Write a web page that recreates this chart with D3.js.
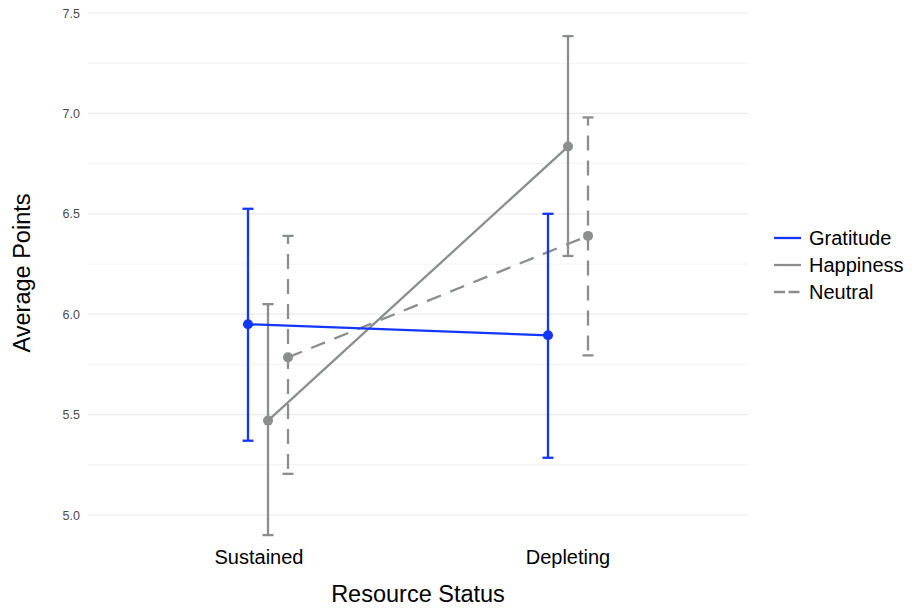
<!DOCTYPE html>
<html>
<head>
<meta charset="utf-8">
<title>Average Points by Resource Status</title>
<style>
  html, body { margin: 0; background: #fff; }
  svg { display: block; font-family: "Liberation Sans", Arial, sans-serif; }
  .grid line { stroke: #ebebeb; }
  .grid-minor line { stroke: #f2f2f2; }
</style>
</head>
<body>
<svg id="chart" width="914" height="613"></svg>
<script src="https://d3js.org/d3.v7.min.js"></script>
<script>
// data
const statuses = ["Sustained", "Depleting"];
const emotions = ["Gratitude", "Happiness", "Neutral"];
const means = {
  Gratitude: [5.95, 5.895],
  Happiness: [5.47, 6.835],
  Neutral:   [5.785, 6.39]
};
const lower = {
  Gratitude: [5.37, 5.285],
  Happiness: [4.90, 6.29],
  Neutral:   [5.205, 5.795]
};
const upper = {
  Gratitude: [6.525, 6.50],
  Happiness: [6.05, 7.385],
  Neutral:   [6.39, 6.98]
};
const yTicks = [5.0, 5.5, 6.0, 6.5, 7.0, 7.5];
const yMinor = [5.25, 5.75, 6.25, 6.75, 7.25];

const colors = { Gratitude: "#1336ff", Happiness: "#8a8f8e", Neutral: "#8a8f8e" };
const dashes = { Gratitude: null, Happiness: null, Neutral: "15,10" };

const panel = { left: 88, right: 748, top: 13, bottom: 515 };
const svg = d3.select("#chart");

// ggplot-style discrete scale: 1..2 with 0.6 expansion on each side
const x = d3.scaleLinear().domain([0.4, 2.6]).range([panel.left, panel.right]);
const y = d3.scaleLinear().domain([5.0, 7.5]).range([panel.bottom, panel.top]);
const dodge = d3.scalePoint().domain(emotions).range([-0.0667, 0.0667]);
const xPos = (i, e) => x(i + 1 + dodge(e));

// gridlines
svg.append("g").attr("class", "grid-minor")
  .selectAll("line").data(yMinor).join("line")
  .attr("x1", panel.left).attr("x2", panel.right)
  .attr("y1", d => y(d)).attr("y2", d => y(d))
  .attr("stroke-width", 1);
svg.append("g").attr("class", "grid")
  .selectAll("line").data(yTicks).join("line")
  .attr("x1", panel.left).attr("x2", panel.right)
  .attr("y1", d => y(d)).attr("y2", d => y(d))
  .attr("stroke-width", 1.2);

// y axis labels
const yAxis = svg.append("g")
  .attr("transform", `translate(${panel.left},0)`)
  .call(d3.axisLeft(y).tickValues(yTicks).tickFormat(d3.format(".1f")).tickSize(0).tickPadding(8));
yAxis.select(".domain").remove();
yAxis.selectAll("text").attr("fill", "#4d4d4d").style("font-size", "12.5px");

// x axis labels
svg.append("g").selectAll("text").data(statuses).join("text")
  .attr("x", (d, i) => x(i + 1) - (i === 0 ? 9 : 0)).attr("y", 564)
  .attr("text-anchor", "middle").attr("fill", "#000")
  .style("font-size", "20px").text(d => d);

// axis titles
svg.append("text").attr("x", x(1.5)).attr("y", 602)
  .attr("text-anchor", "middle").style("font-size", "23.5px").text("Resource Status");
svg.append("text")
  .attr("transform", `translate(30,${(panel.top + panel.bottom) / 2 + 9}) rotate(-90)`)
  .attr("text-anchor", "middle").style("font-size", "23.5px").text("Average Points");

// series
const line = d3.line();
const order = ["Neutral", "Happiness", "Gratitude"];
order.forEach(e => {
  const g = svg.append("g");
  const col = colors[e];
  // error bars
  statuses.forEach((s, i) => {
    const cx = xPos(i, e);
    g.append("line").attr("x1", cx).attr("x2", cx)
      .attr("y1", y(upper[e][i])).attr("y2", y(lower[e][i]))
      .attr("stroke", col).attr("stroke-width", 2.3)
      .attr("stroke-dasharray", dashes[e]).attr("stroke-dashoffset", 7);
    [lower[e][i], upper[e][i]].forEach(v => {
      g.append("line").attr("x1", cx - 5.5).attr("x2", cx + 5.5)
        .attr("y1", y(v)).attr("y2", y(v))
        .attr("stroke", col).attr("stroke-width", 2.3);
    });
  });
  // connecting line
  g.append("path")
    .attr("d", line(statuses.map((s, i) => [xPos(i, e), y(means[e][i])])))
    .attr("fill", "none").attr("stroke", col).attr("stroke-width", 2.3)
    .attr("stroke-dasharray", dashes[e]);
  // points
  g.selectAll("circle").data(means[e]).join("circle")
    .attr("cx", (d, i) => xPos(i, e)).attr("cy", d => y(d))
    .attr("r", 5).attr("fill", col);
});

// legend
const legend = svg.append("g").attr("transform", "translate(774,238)");
emotions.forEach((e, i) => {
  const row = legend.append("g").attr("transform", `translate(0,${i * 27})`);
  row.append("line").attr("x1", 0).attr("x2", 27).attr("y1", 0).attr("y2", 0)
    .attr("stroke", colors[e]).attr("stroke-width", 2.3)
    .attr("stroke-dasharray", e === "Neutral" ? "11,3.5" : null);
  row.append("text").attr("x", 35).attr("y", 7)
    .style("font-size", "20px").text(e);
});
</script>
</body>
</html>
